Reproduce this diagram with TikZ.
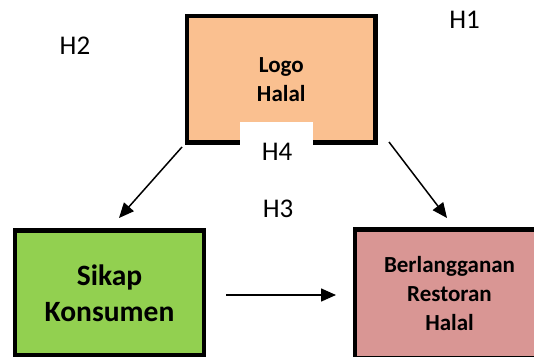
\documentclass[tikz,border=0pt]{standalone}
\usepackage{fontspec}
\setmainfont{Carlito}
\usetikzlibrary{arrows.meta,calc}
\definecolor{orangebox}{HTML}{FAC090}
\definecolor{greenbox}{HTML}{92D050}
\definecolor{pinkbox}{HTML}{D99694}
\begin{document}
\begin{tikzpicture}[x=1pt,y=-1pt,
  boxstyle/.style={draw=black,line width=4.5pt,inner sep=0pt,align=center},
  hlabel/.style={font=\fontsize{27}{32}\selectfont,anchor=base,inner sep=0pt},
  conn/.style={line width=1.5pt,-{Triangle[length=15pt,width=13pt]}}]
\clip (0,0) rectangle (534,356);
\fill[white] (0,0) rectangle (534,356);
\node[boxstyle,fill=orangebox,minimum width=188.5pt,minimum height=126.5pt,
  font=\bfseries\fontsize{23}{29}\selectfont] (logo) at (281.25,79.25) {Logo\\Halal};
\node[boxstyle,fill=greenbox,minimum width=189pt,minimum height=125pt,
  font=\bfseries\fontsize{29.5}{36}\selectfont] (sikap) at (109.5,293) {Sikap\\Konsumen};
\node[boxstyle,fill=pinkbox,minimum width=189pt,minimum height=129pt,
  font=\bfseries\fontsize{23}{29}\selectfont] (berl) at (449.5,294) {Berlangganan\\Restoran\\Halal};
\fill[white] (240,122) rectangle (313,148);
\node[hlabel] (h4) at (277,160) {H4};
\node[hlabel] (h1) at (464.5,28) {H1};
\node[hlabel] (h2) at (75,54) {H2};
\node[hlabel] (h3) at (278,217) {H3};
\draw[conn] ($(logo.south west)+(-2.75,2.25)$) -- ($(sikap.north)+(9.5,-10.25)$);
\draw[conn] ($(logo.south east)+(11.25,-2.75)$) -- ($(berl.north)+(-2.5,-9.25)$);
\draw[conn] ($(sikap.east)+(19.75,2)$) -- ($(berl.west)+(-16.75,1)$);
\end{tikzpicture}
\end{document}
